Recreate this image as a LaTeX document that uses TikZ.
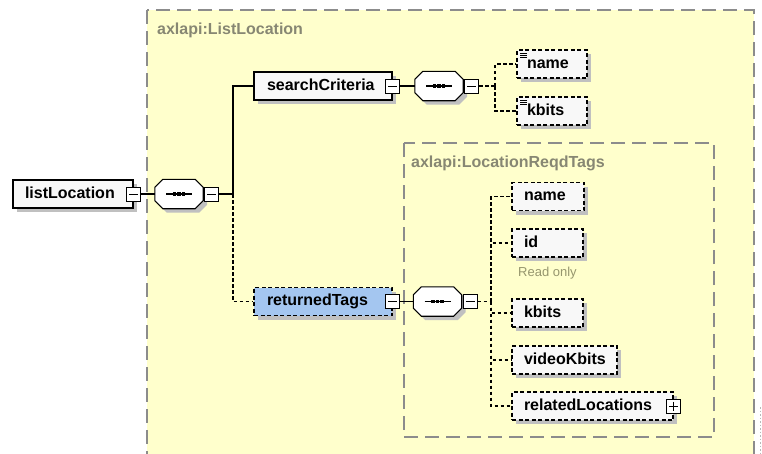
\documentclass[tikz,border=0pt]{standalone}
\usepackage{fontspec}
\setmainfont{Liberation Sans}
\usetikzlibrary{shadows}
\definecolor{bgyellow}{RGB}{255,255,204}
\definecolor{framegray}{RGB}{140,140,140}
\definecolor{titlegray}{RGB}{135,135,115}
\definecolor{boxfill}{RGB}{248,248,248}
\definecolor{selblue}{RGB}{164,198,240}
\definecolor{shadowgray}{RGB}{192,192,192}
\definecolor{readonly}{RGB}{150,150,110}
\newcommand\seqdraw[1]{%
  \draw[line width=1.1pt, fill=white, line join=miter,
    drop shadow={shadow xshift=4pt, shadow yshift=-4pt, fill=shadowgray, opacity=1}]
    ([xshift=8pt]#1.north west) -- ([xshift=-8pt]#1.north east) -- ([yshift=-8pt]#1.north east)
    -- ([yshift=8pt]#1.south east) -- ([xshift=-8pt]#1.south east) -- ([xshift=8pt]#1.south west)
    -- ([yshift=8pt]#1.south west) -- ([yshift=-8pt]#1.north west) -- cycle;
  \draw[line width=1.1pt] ([xshift=-13pt]#1.center) -- ([xshift=13pt]#1.center);
  \foreach \d in {-4.5,0,4.5}
    \fill ([xshift=\d pt]#1.center) +(-1.8pt,-1.8pt) rectangle +(1.8pt,1.8pt);%
}
\begin{document}
\begin{tikzpicture}[x=1pt,y=-1pt,
  every node/.style={font=\fontsize{16}{18}\selectfont\bfseries},
  elem/.style={draw, line width=1.1pt, fill=boxfill, minimum height=28pt,
    text height=12pt, text depth=3.5pt, align=left,
    drop shadow={shadow xshift=4pt, shadow yshift=-4pt, fill=shadowgray, opacity=1}},
  opt/.style={elem, dash pattern=on 4pt off 2.5pt},
  attr/.style={path picture={\foreach \k in {3,5.3,7.6}
      \draw[solid, line width=0.8pt] ([xshift=3pt,yshift=-\k pt]path picture bounding box.north west) -- ++(7pt,0pt);}},
  minusbox/.style={draw, solid, line width=0.9pt, fill=white, minimum size=14pt, inner sep=0pt,
    path picture={\draw[line width=0.9pt] ([xshift=2.5pt]path picture bounding box.west) -- ([xshift=-2.5pt]path picture bounding box.east);}},
  plusbox/.style={draw, solid, line width=0.9pt, fill=white, minimum size=14pt, inner sep=0pt,
    path picture={\draw[line width=0.9pt] ([xshift=2.5pt]path picture bounding box.west) -- ([xshift=-2.5pt]path picture bounding box.east);
      \draw[line width=0.9pt] ([yshift=-2.5pt]path picture bounding box.north) -- ([yshift=2.5pt]path picture bounding box.south);}},
  seqbox/.style={inner sep=0pt, minimum width=48pt, minimum height=29pt},
  solidc/.style={line width=1.1pt},
  dashc/.style={line width=1.1pt, dash pattern=on 3.5pt off 2.5pt},
  framedash/.style={draw=framegray, line width=1.1pt, dash pattern=on 14pt off 7pt},
  title/.style={anchor=west, text=titlegray, inner sep=0pt}
]
\clip (0,0) rectangle (762,453);
\fill[white] (0,0) rectangle (762,453);
% outer frame
\draw[framedash, fill=bgyellow] (147,10) rectangle (754,475);
\node[title] (t1) at (157,30) {axlapi:ListLocation};
% inner frame
\draw[framedash] (404,143) rectangle (714,437);
\node[title] (t2) at (411,163) {axlapi:LocationReqdTags};
\draw[gray!55, line width=0.8pt, dash pattern=on 1.5pt off 2pt] (760,407) -- (760,453);

% junctions
\coordinate (j1) at (233,194);
\coordinate (j2) at (495,86);
\coordinate (j3) at (491,301.5);

% compositors
\node[seqbox] (c1) at (179,194) {};
\node[seqbox] (c2) at (439,86) {};
\node[seqbox] (c3) at (437.5,301.5) {};
\seqdraw{c1}
\seqdraw{c2}
\seqdraw{c3}
\node[minusbox, anchor=west] (c1m) at ([xshift=1pt]c1.east) {};
\node[minusbox, anchor=west] (c2m) at ([xshift=1pt]c2.east) {};
\node[minusbox, anchor=west] (c3m) at ([xshift=1pt]c3.east) {};

% root
\node[elem, inner xsep=12pt, text width=96pt] (ll) at (73,194) {listLocation};
\node[minusbox] (llm) at (ll.east) {};

% searchCriteria
\node[elem, inner xsep=13pt, text width=112pt] (sc) at (323,86) {searchCriteria};
\node[minusbox] (scm) at (sc.east) {};
\node[opt, attr, inner xsep=10pt, text width=50pt] (n1) at (552,64) {name};
\node[opt, attr, inner xsep=10pt, text width=50pt] (k1) at (552,111) {kbits};

% returnedTags
\node[opt, fill=selblue, inner xsep=13pt, text width=112pt] (rt) at (323,301.5) {returnedTags};
\node[minusbox] (rtm) at (rt.east) {};
\node[opt, inner xsep=12pt, text width=48pt] (n2) at (548,196.5) {name};
\node[opt, inner xsep=12pt, text width=47pt] (id) at (547.5,243) {id};
\node[anchor=west, inner sep=0pt, text=readonly, font=\fontsize{13}{15}\selectfont] (ro) at (518,273) {Read only};
\node[opt, inner xsep=12pt, text width=47pt] (k2) at (547.5,313) {kbits};
\node[opt, inner xsep=12pt, text width=81pt] (vk) at (564.5,360) {videoKbits};
\node[opt, inner xsep=12pt, text width=137pt] (rl) at (592.5,406) {relatedLocations};
\node[plusbox] (rlp) at (rl.east) {};

% connectors
\draw[solidc] (llm.east) -- (c1.west);
\draw[solidc] (c1m.east) -- (j1);
\draw[solidc] (j1) |- (sc.west);
\draw[dashc] (j1) |- (rt.west);
\draw[solidc] (scm.east) -- (c2.west);
\draw[dashc] (c2m.east) -- (j2);
\draw[dashc] (j2) |- (n1.west);
\draw[dashc] (j2) |- (k1.west);
\draw[solidc] (rtm.east) -- (c3.west);
\draw[dashc] (c3m.east) -- (j3);
\draw[dashc] (j3) |- (n2.west);
\draw[dashc] (j3) |- (id.west);
\draw[dashc] (j3) |- (k2.west);
\draw[dashc] (j3) |- (vk.west);
\draw[dashc] (j3) |- (rl.west);
\end{tikzpicture}
\end{document}
